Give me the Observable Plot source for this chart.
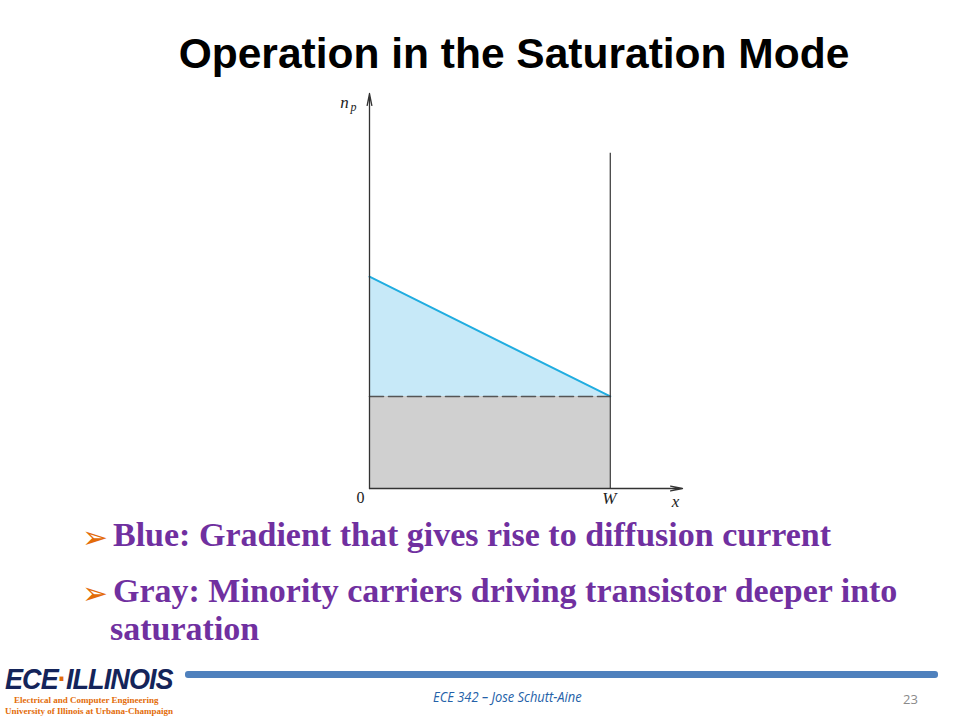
<!DOCTYPE html>
<html>
<head>
<meta charset="utf-8">
<script src="https://cdn.jsdelivr.net/npm/d3@7"></script>
<script src="https://cdn.jsdelivr.net/npm/@observablehq/plot@0.6"></script>
<style>
  html, body { margin: 0; padding: 0; background: #fff; width: 960px; height: 720px; overflow: hidden; }
  .abs { position: absolute; white-space: nowrap; }
  #title { left: 0; width: 1028px; top: 30px; text-align: center; font-family: "Liberation Sans", Arial, sans-serif; font-weight: bold; font-size: 42.5px; color: #000; }
  .bullet { font-family: "Liberation Serif", "Times New Roman", serif; font-weight: bold; font-size: 34px; color: #7030A0; }
  .arrowmark { color: #E36C09; font-family: "DejaVu Sans", sans-serif; font-size: 31px; line-height: 1; }
  #bar { left: 185px; top: 671px; width: 753px; height: 7px; background: #4F81BD; border-radius: 3px; }
  #footer { left: 433px; top: 686px; font-family: "Open Sans", "Liberation Sans", sans-serif; font-style: italic; font-size: 15px; color: #2461A8; transform-origin: 0 0; transform: scaleX(0.86); }
  #page { left: 903px; top: 690px; font-family: "Open Sans", "Liberation Sans", sans-serif; font-size: 13px; color: #8a8a8a; }
  #logo { left: 5px; top: 662px; font-family: "Liberation Sans", Arial, sans-serif; font-weight: bold; font-style: italic; font-size: 30px; color: #14245a; letter-spacing: -1px; transform-origin: 0 0; transform: scaleX(0.9); }
  #logo .dot { color: #E36C09; font-style: normal; }
  .logosub { font-family: "Liberation Serif", serif; font-weight: bold; font-size: 9px; color: #E36C09; }
</style>
</head>
<body>
<div id="title" class="abs">Operation in the Saturation Mode</div>
<div id="chart" class="abs" style="left:0;top:80px;"></div>

<div class="abs" style="left:82px;top:522px;"><span class="arrowmark">➢</span></div>
<div class="abs bullet" style="left:113px;top:516px;">Blue: Gradient that gives rise to diffusion current</div>
<div class="abs" style="left:82px;top:578px;"><span class="arrowmark">➢</span></div>
<div class="abs bullet" style="left:113px;top:572px;">Gray: Minority carriers driving transistor deeper into</div>
<div class="abs bullet" style="left:110px;top:610px;">saturation</div>

<div id="logo" class="abs">ECE<span class="dot">·</span>ILLINOIS</div>
<div class="abs logosub" style="left:14px;top:695px;">Electrical and Computer Engineering</div>
<div class="abs logosub" style="left:5px;top:706px;">University of Illinois at Urbana-Champaign</div>
<div id="bar" class="abs"></div>
<div id="footer" class="abs">ECE 342 – Jose Schutt-Aine</div>
<div id="page" class="abs">23</div>

<script>
// Positions along the base region (0 = emitter edge, 1 = W)
const xPos = [0, 1];
const xLabels = ["0", "W"];
// Excess minority-carrier profile (blue) and saturation charge level (gray)
const grayLevel = [1, 1];
const blueProfile = [2.3, 1];
// Axis extents
const xAxisEnd = 1.3;
const yAxisEnd = 4.29;
const wLineTop = 3.64;

const pts = xPos.map((x, i) => ({x, gray: grayLevel[i], blue: blueProfile[i], label: xLabels[i]}));

const plot = Plot.plot({
  width: 960,
  height: 430,
  marginLeft: 369,
  marginRight: 278,
  marginTop: 13,
  marginBottom: 22,
  x: {domain: [0, xAxisEnd], axis: null},
  y: {domain: [0, yAxisEnd], axis: null},
  marks: [
    Plot.areaY(pts, {x: "x", y1: 0, y2: "gray", fill: "#d0d0d0", curve: "linear"}),
    Plot.areaY(pts, {x: "x", y1: "gray", y2: "blue", fill: "#c7e9f8", curve: "linear"}),
    Plot.line(pts, {x: "x", y: "blue", stroke: "#21ade0", strokeWidth: 2}),
    Plot.line(pts, {x: "x", y: "gray", stroke: "#555", strokeWidth: 1.6, strokeDasharray: "14,5"}),
    Plot.ruleX([xPos[1]], {y1: 0, y2: wLineTop, stroke: "#333", strokeWidth: 1.2}),
    Plot.arrow([{x1: 0, y1: 0, x2: xAxisEnd, y2: 0}], {x1: "x1", y1: "y1", x2: "x2", y2: "y2", stroke: "#333", strokeWidth: 1.3, headLength: 14, headAngle: 22}),
    Plot.arrow([{x1: 0, y1: 0, x2: 0, y2: yAxisEnd}], {x1: "x1", y1: "y1", x2: "x2", y2: "y2", stroke: "#333", strokeWidth: 1.3, headLength: 14, headAngle: 22}),
    Plot.text(pts.slice(0, 1), {x: "x", y: 0, text: "label", dx: -9, dy: 9, fontSize: 16, fontFamily: "Liberation Serif, serif", fill: "#222"}),
    Plot.text(pts.slice(1), {x: "x", y: 0, text: "label", dx: -1, dy: 10, fontSize: 17, fontStyle: "italic", fontFamily: "Liberation Serif, serif", fill: "#222"}),
    Plot.text(["x"], {x: xAxisEnd, y: 0, text: d => d, dx: -7, dy: 13, fontSize: 17, fontStyle: "italic", fontFamily: "Liberation Serif, serif", fill: "#222"}),
    Plot.text(["n"], {x: 0, y: yAxisEnd, text: d => d, dx: -25, dy: 9, fontSize: 17, fontStyle: "italic", fontFamily: "Liberation Serif, serif", fill: "#222"}),
    Plot.text(["p"], {x: 0, y: yAxisEnd, text: d => d, dx: -16, dy: 14, fontSize: 12, fontStyle: "italic", fontFamily: "Liberation Serif, serif", fill: "#222"})
  ]
});
document.getElementById("chart").appendChild(plot);
</script>
</body>
</html>
